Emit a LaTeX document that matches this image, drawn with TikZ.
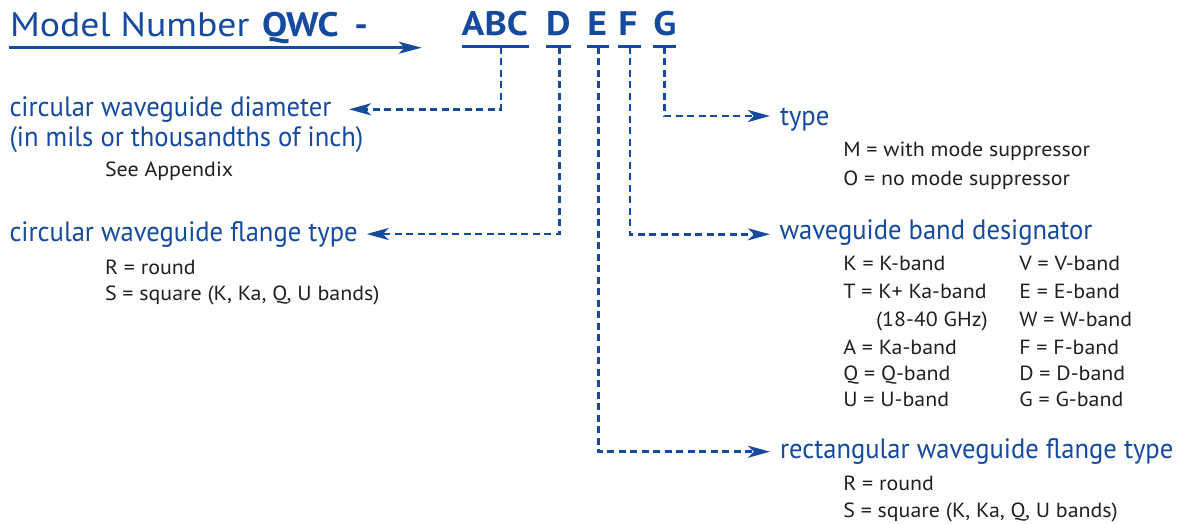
\documentclass[tikz,border=0pt]{standalone}
\usepackage{fontspec}
\setmainfont{PT Sans}
\newfontfamily\lblfont[FakeStretch=0.95]{PT Sans}
\newfontfamily\subfont[FakeStretch=1.07]{PT Sans}
\newfontfamily\hdrfont[FakeStretch=1.11]{PT Sans}
\usetikzlibrary{arrows.meta}
\definecolor{qblue}{RGB}{22,74,158}
\definecolor{qtext}{RGB}{35,31,32}
\tikzset{
  lbl/.style={anchor=base west, inner sep=0pt, outer sep=0pt, text=qblue, font=\lblfont\fontsize{28}{28}\selectfont},
  sub/.style={anchor=base west, inner sep=0pt, outer sep=0pt, text=qtext, font=\subfont\fontsize{20.5}{20.5}\selectfont},
  hdr/.style={anchor=base west, inner sep=0pt, outer sep=0pt, text=qblue, font=\hdrfont\fontsize{34}{34}\selectfont},
  code/.style={anchor=base west, inner sep=0pt, outer sep=0pt, text=qblue, font=\hdrfont\fontsize{34}{34}\selectfont\bfseries},
  uline/.style={draw=qblue, line width=2.8pt},
  lead/.style={draw=qblue, line width=2.8pt, dash pattern=on 7pt off 4.5pt, -{Stealth[length=22pt,width=12pt,inset=6pt]}},
  mainarrow/.style={draw=qblue, line width=2.8pt, -{Stealth[length=23pt,width=12pt,inset=6pt]}},
}
\begin{document}
\begin{tikzpicture}[x=1pt,y=-1pt]
\fill[white] (0,0) rectangle (1184,523);
\useasboundingbox (0,0) rectangle (1184,523);
% header
\node[hdr] (hdrA) at (10,36) {Model Number};
\node[code] (hdrB) at (262,36) {QWC\hspace{6pt} -};
\coordinate (mstart) at (9.3,47.7);
\coordinate (mend) at (421.7,47.7);
\draw[mainarrow] (mstart) -- (mend);
% code letters
\node[code] (cABC) at (461.7,35.7) {ABC};
\node[code] (cD) at (546,35.7) {D};
\node[code] (cE) at (587.3,35.7) {E};
\node[code] (cF) at (618.3,35.7) {F};
\node[code] (cG) at (653.3,35.7) {G};
% underlines
\draw[uline] (461.7,46.7) -- (529.3,46.7);
\draw[uline] (546,46.7) -- (570.7,46.7);
\draw[uline] (587.3,46.7) -- (609.3,46.7);
\draw[uline] (618.3,46.7) -- (640.7,46.7);
\draw[uline] (653.3,46.7) -- (676,46.7);
\coordinate (uABC) at (501,46.7);
\coordinate (uD) at (559.5,46.7);
\coordinate (uE) at (598.3,46.7);
\coordinate (uF) at (630,46.7);
\coordinate (uG) at (664.3,46.7);
% left labels
\node[lbl] (diam) at (9.5,116) {circular waveguide diameter};
\node[lbl] (diam2) at (9.5,146.7) {(in mils or thousandths of inch)};
\node[sub] (app) at (105,176) {See Appendix};
\node[lbl] (cflange) at (9.5,241.7) {circular waveguide flange type};
\node[sub] (cR) at (105,274) {R = round};
\node[sub] (cS) at (105,300.7) {S = square (K, Ka, Q, U bands)};
\coordinate (tABC) at (349,109.3);
\coordinate (tD) at (366.7,234);
% right labels
\node[lbl] (type) at (780,125) {type};
\node[sub] (tM) at (843.3,156.7) {M = with mode suppressor};
\node[sub] (tO) at (843.3,185) {O = no mode suppressor};
\node[lbl] (band) at (779.5,239.3) {waveguide band designator};
\node[sub] (bK) at (843.3,270) {K = K-band};
\node[sub] (bT) at (843.3,298.5) {T = K+ Ka-band};
\node[sub] (bT2) at (876,326.5) {(18-40 GHz)};
\node[sub] (bA) at (843.3,354.5) {A = Ka-band};
\node[sub] (bQ) at (843.3,380) {Q = Q-band};
\node[sub] (bU) at (843.3,406) {U = U-band};
\node[sub] (bV) at (1019.3,270) {V = V-band};
\node[sub] (bE) at (1019.3,298.5) {E = E-band};
\node[sub] (bW) at (1019.3,326.5) {W = W-band};
\node[sub] (bF) at (1019.3,354.5) {F = F-band};
\node[sub] (bD) at (1019.3,380) {D = D-band};
\node[sub] (bG) at (1019.3,406) {G = G-band};
\node[lbl] (rflange) at (780,458) {rectangular waveguide flange type};
\node[sub] (rR) at (843.3,490.7) {R = round};
\node[sub] (rS) at (843.3,517.3) {S = square (K, Ka, Q, U bands)};
\coordinate (tG) at (770,116);
\coordinate (tF) at (770,234.3);
\coordinate (tE) at (770,451.7);
% leaders
\draw[lead] (uABC) |- (tABC);
\draw[lead] (uD) |- (tD);
\draw[lead] (uG) |- (tG);
\draw[lead] (uF) |- (tF);
\draw[lead] (uE) |- (tE);
\end{tikzpicture}
\end{document}
